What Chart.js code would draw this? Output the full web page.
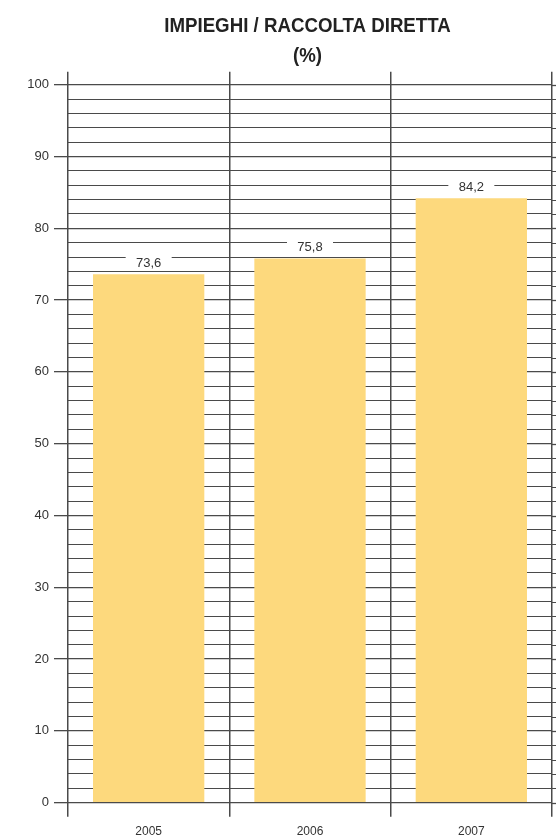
<!DOCTYPE html>
<html>
<head>
<meta charset="utf-8">
<script src="https://cdn.jsdelivr.net/npm/chart.js@4.4.1/dist/chart.umd.min.js"></script>
<style>
  html, body { margin: 0; padding: 0; background: #fff; }
  #wrap { width: 556px; height: 838px; }
</style>
</head>
<body>
<div id="wrap"><canvas id="chart"></canvas></div>
<script>
// --- data ---
const years = ['2005', '2006', '2007'];
const ratios = [73.6, 75.8, 84.2];
const titleLines = ['IMPIEGHI / RACCOLTA DIRETTA', '(%)'];
const yLabelStep = 10;   // labelled ticks
const yGridStep = 2;     // ruled lines

const lineColor = '#4a4a4a';
const textColor = '#333';
const barColor = '#fdd97d';
const font = '"Liberation Sans", Arial, sans-serif';

const isMajor = v => Math.abs(v % yLabelStep) < 1e-6;

// two-line heading, squeezed a little to look like a condensed face
const heading = {
    id: 'heading',
    afterDraw(chart) {
        const ctx = chart.ctx;
        const cx = 307.5;
        ctx.save();
        ctx.fillStyle = '#222';
        ctx.font = 'bold 21px ' + font;
        ctx.textAlign = 'center';
        ctx.textBaseline = 'middle';
        titleLines.forEach((line, i) => {
            ctx.save();
            ctx.translate(cx, 26 + i * 30);
            ctx.scale(0.89, 1);
            ctx.fillText(line, 0, 0);
            ctx.restore();
        });
        ctx.restore();
    }
};

// value above each bar, on a white patch that breaks the ruling
const valueLabels = {
    id: 'valueLabels',
    afterDraw(chart) {
        const ctx = chart.ctx;
        const meta = chart.getDatasetMeta(0);
        ctx.save();
        ctx.font = '13px ' + font;
        ctx.textAlign = 'center';
        ctx.textBaseline = 'middle';
        meta.data.forEach((bar, i) => {
            const y = bar.y - 12;
            ctx.fillStyle = '#fff';
            ctx.fillRect(bar.x - 23, y - 6, 46, 12);
            ctx.fillStyle = textColor;
            ctx.fillText(ratios[i].toFixed(1).replace('.', ','), bar.x, y + 1);
        });
        ctx.restore();
    }
};

// horizontal ruling runs on past the last column line to the edge
const ruleToEdge = {
    id: 'ruleToEdge',
    afterDraw(chart) {
        const ctx = chart.ctx;
        const yScale = chart.scales.y;
        const right = chart.chartArea.right;
        ctx.save();
        ctx.strokeStyle = lineColor;
        yScale.ticks.forEach(t => {
            const py = Math.round(yScale.getPixelForValue(t.value)) + 0.5;
            ctx.lineWidth = isMajor(t.value) ? 1.3 : 1;
            ctx.beginPath();
            ctx.moveTo(right, py);
            ctx.lineTo(chart.width, py);
            ctx.stroke();
        });
        ctx.restore();
    }
};

new Chart(document.getElementById('chart'), {
    type: 'bar',
    data: {
        labels: years,
        datasets: [{
            data: ratios,
            backgroundColor: barColor,
            borderWidth: 0,
            categoryPercentage: 1,
            barPercentage: 0.69
        }]
    },
    options: {
        responsive: true,
        maintainAspectRatio: false,
        animation: false,
        devicePixelRatio: 1,
        layout: { padding: { left: 27, right: 4, top: 71.8, bottom: 0 } },
        plugins: {
            legend: { display: false },
            tooltip: { enabled: false },
            title: { display: false }
        },
        scales: {
            x: {
                z: 1,
                offset: true,
                border: { display: false },
                afterFit: s => { s.height = 35.3; },
                grid: {
                    offset: true,
                    color: lineColor,
                    lineWidth: 1.5,
                    tickLength: 14
                },
                ticks: { color: textColor, font: { family: font, size: 12 }, padding: 8 }
            },
            y: {
                z: 1,
                min: 0,
                max: 101.8,
                border: { display: false },
                afterFit: s => { s.width = 41; },
                grid: {
                    color: lineColor,
                    lineWidth: c => (c.tick && isMajor(c.tick.value)) ? 1.3 : 1,
                    tickLength: 14,
                    tickColor: c => (c.tick && isMajor(c.tick.value)) ? lineColor : 'rgba(0,0,0,0)'
                },
                ticks: {
                    stepSize: yGridStep,
                    includeBounds: false,
                    autoSkip: false,
                    padding: 5,
                    color: textColor,
                    font: { family: font, size: 13 },
                    callback: v => isMajor(v) ? v : ''
                }
            }
        }
    },
    plugins: [heading, valueLabels, ruleToEdge]
});
</script>
</body>
</html>
